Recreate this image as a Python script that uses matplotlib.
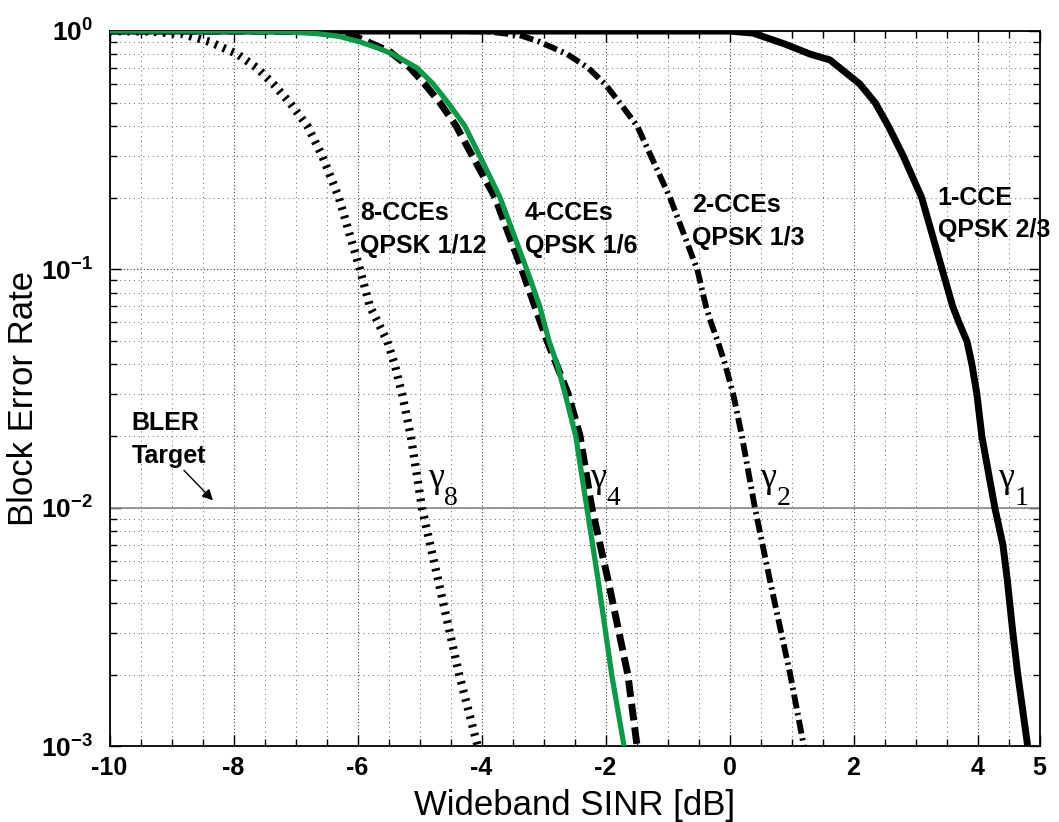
import math
import matplotlib
matplotlib.use("Agg")
import matplotlib.pyplot as plt
from matplotlib.ticker import FixedLocator, FuncFormatter, LogLocator, MultipleLocator, NullFormatter

plt.rcParams["font.family"] = ["Liberation Sans", "DejaVu Sans"]
plt.rcParams["axes.unicode_minus"] = False
plt.rcParams["mathtext.fontset"] = "custom"
plt.rcParams["mathtext.rm"] = "Liberation Sans:bold"
plt.rcParams["mathtext.bf"] = "Liberation Sans:bold"

# BLER vs wideband SINR for each PDCCH aggregation level
sinr_1cce = [-10, 0.0, 0.38, 0.90, 1.30, 1.62, 1.78, 2.10, 2.35, 2.56, 2.80, 3.10, 3.43,
             3.60, 3.70, 3.83, 3.91, 3.99, 4.07, 4.28, 4.41, 4.48, 4.57, 4.65, 4.81]
bler_1cce = [1.0, 0.999, 0.98, 0.88, 0.80, 0.756, 0.70, 0.60, 0.50, 0.40, 0.30, 0.20, 0.10,
             0.07, 0.06, 0.05, 0.04, 0.03, 0.02, 0.01, 0.007, 0.005, 0.003, 0.002, 0.001]

sinr_2cce = [-10, -4.5, -3.9, -3.38, -3.06, -2.62, -2.28, -2.01, -1.77, -1.49, -1.27, -0.96,
             -0.52, -0.38, -0.30, -0.19, -0.07, 0.06, 0.20, 0.41, 0.65, 0.98, 1.20]
bler_2cce = [1.0, 1.0, 0.995, 0.96, 0.90, 0.80, 0.70, 0.60, 0.50, 0.40, 0.30, 0.20,
             0.10, 0.07, 0.06, 0.05, 0.04, 0.03, 0.02, 0.01, 0.005, 0.002, 0.001]

sinr_4cce = [-10, -7.5, -6.5, -6.0, -5.48, -5.15, -4.92, -4.67, -4.41, -4.15, -3.78, -3.35,
             -3.14, -2.94, -2.60, -2.41, -2.22, -1.96, -1.64, -1.49]
bler_4cce = [1.0, 1.0, 0.99, 0.94, 0.82, 0.70, 0.60, 0.50, 0.40, 0.30, 0.20, 0.10,
             0.07, 0.05, 0.03, 0.02, 0.01, 0.005, 0.002, 0.001]

sinr_4cce_fit = [-10, -8, -7.4, -7.0, -6.65, -6.30, -5.96, -5.68, -5.43, -5.04, -4.78, -4.54,
                 -4.27, -4.03, -3.70, -3.27, -3.06, -2.91, -2.78, -2.65, -2.48, -2.30,
                 -2.12, -1.90, -1.70]
bler_4cce_fit = [1.0, 0.999, 0.995, 0.988, 0.975, 0.95, 0.90, 0.85, 0.80, 0.70, 0.60, 0.50,
                 0.40, 0.30, 0.20, 0.10, 0.07, 0.05, 0.04, 0.03, 0.02, 0.01,
                 0.005, 0.002, 0.001]

sinr_8cce = [-10, -9.35, -8.81, -8.38, -7.94, -7.62, -7.36, -7.09, -6.81, -6.57, -6.30,
             -5.96, -5.80, -5.67, -5.52, -5.40, -5.28, -5.14, -4.96, -4.70, -4.36, -4.06]
bler_8cce = [1.0, 0.995, 0.97, 0.90, 0.80, 0.70, 0.60, 0.50, 0.40, 0.30, 0.20,
             0.10, 0.07, 0.06, 0.05, 0.04, 0.03, 0.02, 0.01, 0.005, 0.002, 0.001]

bler_target = 0.01

x_ticks = [-10, -8, -6, -4, -2, 0, 2, 4, 5]

# curve annotations: (first line, second line, x, baseline y of line 1, baseline y of line 2)
curve_labels = [
    ("8-CCEs", "QPSK 1/12", -5.96, 0.161, 0.117),
    ("4-CCEs", "QPSK 1/6", -3.30, 0.161, 0.117),
    ("2-CCEs", "QPSK 1/3", -0.60, 0.174, 0.127),
    ("1-CCE", "QPSK 2/3", 3.36, 0.186, 0.137),
]

# threshold markers gamma_n where each curve meets the target
gamma_subscripts = ["8", "4", "2", "1"]
gamma_x = [-4.86, -2.25, 0.49, 4.33]
gamma_sub_x = [-4.60, -1.98, 0.76, 4.60]
gamma_y = 0.0123
gamma_sub_y = 0.0103

fig = plt.figure(figsize=(10.59, 8.22), dpi=100)
ax = fig.add_axes([0.1034, 0.0919, 0.8782, 0.8704])
ax.set_yscale("log")
ax.set_xlim(-10, 5)
ax.set_ylim(1e-3, 1)

# ticks and grid
ax.xaxis.set_major_locator(FixedLocator(x_ticks))
ax.xaxis.set_minor_locator(MultipleLocator(0.5))
ax.yaxis.set_major_locator(LogLocator(base=10, numticks=10))
ax.yaxis.set_minor_locator(LogLocator(base=10, subs=range(2, 10), numticks=20))
ax.yaxis.set_minor_formatter(NullFormatter())
ax.yaxis.set_major_formatter(FuncFormatter(
    lambda v, p: r"$\mathbf{10^{%d}}$" % round(math.log10(v))))
ax.grid(True, which="major", color="#444444", linestyle=(0, (1, 2)), lw=0.8)
ax.grid(True, which="minor", color="#777777", linestyle=(0, (1, 3.5)), lw=0.75)

ax.tick_params(which="both", direction="in", top=True, right=True, width=1.0)
ax.tick_params(which="major", length=8)
ax.tick_params(which="minor", length=5)
ax.tick_params(axis="x", labelsize=18, pad=7)
ax.tick_params(axis="y", labelsize=19, pad=12)
for lbl in ax.get_xticklabels():
    lbl.set_fontweight("bold")
for sp in ax.spines.values():
    sp.set_linewidth(1.3)

# target line
ax.axhline(bler_target, color="#8a8a8a", lw=1.2, zorder=2)

# curves
ax.plot(sinr_8cce, bler_8cce, color="black", lw=6, linestyle=(0, (0.32, 0.75)), zorder=3)
ax.plot(sinr_2cce, bler_2cce, color="black", lw=4.2, linestyle=(0, (2.4, 0.8, 0.4, 0.8)), zorder=3)
ax.plot(sinr_4cce, bler_4cce, color="black", lw=5, linestyle=(0, (2.4, 1.0)), zorder=3)
ax.plot(sinr_1cce, bler_1cce, color="black", lw=5, zorder=3)
ax.plot(sinr_4cce_fit, bler_4cce_fit, color="#0b9a48", lw=3.8, zorder=4)

# labels
for line1, line2, x, y1, y2 in curve_labels:
    ax.text(x, y1, line1, fontsize=18, fontweight="bold", ha="left", va="baseline", zorder=5)
    ax.text(x, y2, line2, fontsize=18, fontweight="bold", ha="left", va="baseline", zorder=5)

for sub, gx, sx in zip(gamma_subscripts, gamma_x, gamma_sub_x):
    ax.text(gx, gamma_y, "\u03b3", family="Liberation Serif", fontsize=26,
            ha="left", va="baseline", zorder=5)
    ax.text(sx, gamma_sub_y, sub, family="Liberation Serif", fontsize=20,
            ha="left", va="baseline", zorder=5)

ax.text(-9.64, 0.0212, "BLER", fontsize=18, fontweight="bold", ha="left", va="baseline")
ax.text(-9.64, 0.01538, "Target", fontsize=18, fontweight="bold", ha="left", va="baseline")
ax.annotate("", xy=(-8.30, 0.01055), xytext=(-8.83, 0.01466),
            arrowprops=dict(arrowstyle="-|>", color="black", lw=1.0, mutation_scale=16))

ax.set_xlabel("Wideband SINR [dB]", fontsize=25)
ax.set_ylabel("Block Error Rate", fontsize=25)
ax.xaxis.set_label_coords(0.5, -0.06)
ax.yaxis.set_label_coords(-0.0747, 0.486)

fig.savefig("out.png", dpi=100)
